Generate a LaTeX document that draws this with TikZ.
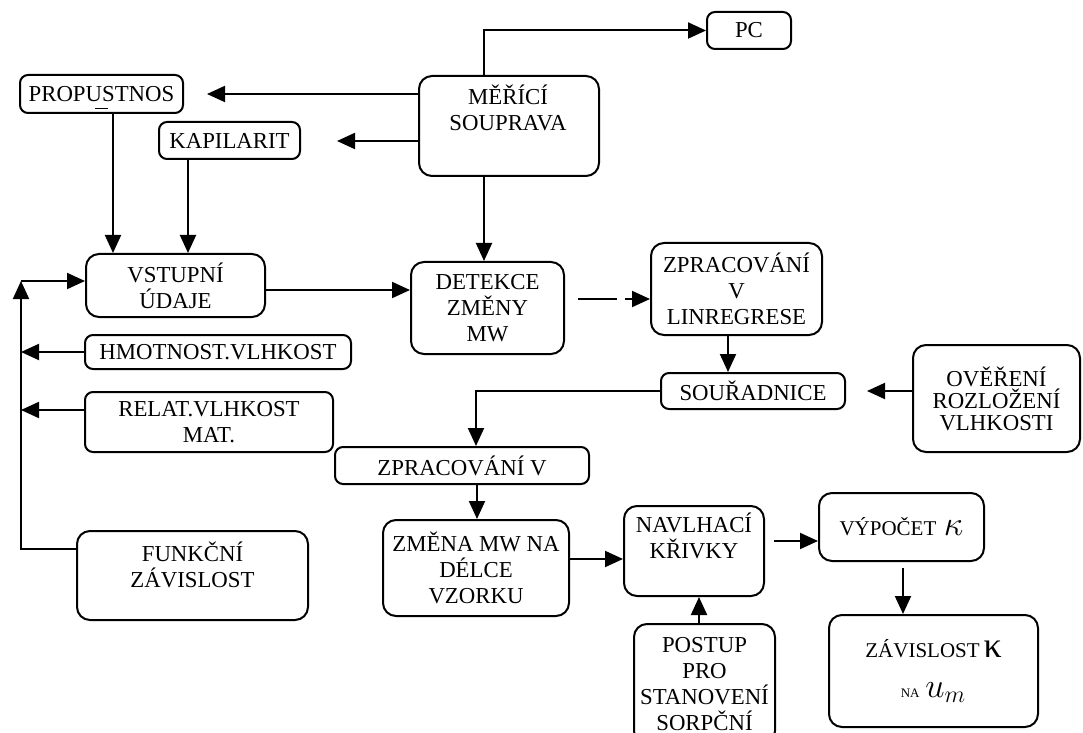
\documentclass[tikz,border=0pt]{standalone}
\usepackage{fontspec}
\setmainfont{Liberation Serif}
\usetikzlibrary{arrows.meta}

\begin{document}
\begin{tikzpicture}[x=0.5pt,y=-0.5pt,line width=1pt,
  font=\fontsize{11.4}{13}\selectfont,
  box/.style={draw,rounded corners=4pt,align=center,inner sep=1pt},
  bigbox/.style={box,rounded corners=6.5pt},
  arr/.style={-{Triangle[length=9pt,width=8pt]}}]
\useasboundingbox (0,0) rectangle (1083,733);
\clip (0,0) rectangle (1083,733);
% boxes
\node[box,minimum width=42pt,minimum height=18.5pt] (pc) at (749,30.5) {PC};
\node[bigbox,minimum width=90pt,minimum height=50pt] (mer) at (509,126) {};
\node[align=center] (merT) at (508,108) {MĚŘÍCÍ\\SOUPRAVA};
\node[box,minimum width=81.5pt,minimum height=19pt] (prop) at (101.5,94) {\ooalign{PROPUSTNOS\cr\hfil\smash{\raisebox{-3.8pt}{\rule{6.5pt}{0.7pt}}}\hfil\cr}};
\node[box,minimum width=70.5pt,minimum height=18.5pt] (kap) at (229.5,140.5) {KAPILARIT};
\node[bigbox,minimum width=89.5pt,minimum height=31.5pt] (vst) at (175.5,285.5) {VSTUPNÍ\\ÚDAJE};
\node[bigbox,minimum width=76.5pt,minimum height=46pt] (det) at (487.5,308) {DETEKCE\\ZMĚNY\\MW};
\node[bigbox,minimum width=85.5pt,minimum height=46pt] (lin) at (736.5,289) {ZPRACOVÁNÍ\\V\\LINREGRESE};
\node[box,minimum width=92pt,minimum height=18pt] (sou) at (753,391) {SOUŘADNICE};
\node[bigbox,minimum width=83.5pt,minimum height=53.5pt,font=\fontsize{11.4}{11}\selectfont] (ove) at (996.5,398.5) {OVĚŘENÍ\\ROZLOŽENÍ\\VLHKOSTI};
\node[box,minimum width=133pt,minimum height=17pt] (hmo) at (218,352) {HMOTNOST.VLHKOST};
\node[box,minimum width=124pt,minimum height=30pt] (rel) at (209,422) {RELAT.VLHKOST\\MAT.};
\node[box,minimum width=127pt,minimum height=18.5pt] (zpv) at (462,465.5) {ZPRACOVÁNÍ V};
\node[bigbox,minimum width=93pt,minimum height=48pt] (zme) at (476,568) {ZMĚNA MW NA\\DÉLCE\\VZORKU};
\node[bigbox,minimum width=70pt,minimum height=45pt] (nav) at (694,551) {};
\node[align=center] (navT) at (694,536) {NAVLHACÍ\\KŘIVKY};
\node[bigbox,minimum width=70.5pt,minimum height=60pt] (pos) at (704.5,684) {POSTUP\\PRO\\STANOVENÍ\\SORPČNÍ};
\node[bigbox,minimum width=115.5pt,minimum height=44.5pt] (fun) at (192.5,575.5) {};
\node[align=center] (funT) at (192.5,565) {FUNKČNÍ\\ZÁVISLOST};
\node[bigbox,minimum width=82.5pt,minimum height=34pt] (vyp) at (901.5,527) {{\fontsize{10.5}{12}\selectfont VÝPOČET}\,\,{\LARGE$\kappa$}};
\node[bigbox,minimum width=104.5pt,minimum height=56pt] (zav) at (933.5,671) {{\fontsize{10.5}{12}\selectfont ZÁVISLOST}\,{\fontsize{18}{18}\selectfont κ}\\[7pt]{\fontsize{6.5}{7}\selectfont NA} {\LARGE$u_m$}};
% free ends
\coordinate (propR) at (207,94);
\coordinate (kapR) at (337,141);
\coordinate (souR) at (867,391);
\coordinate (busT) at (21,281);
% connectors
\draw[arr] ([xshift=-12.5pt]mer.north) |- (pc.west);
\draw[arr] ([yshift=16pt]mer.west) -- (propR);
\draw[arr] ([yshift=-7.5pt]mer.west) -- (kapR);
\draw[arr] ([xshift=5.75pt]prop.south) -- ([xshift=5.75pt]prop.south |- vst.north);
\draw[arr] ([xshift=-20.75pt]kap.south) -- ([xshift=-20.75pt]kap.south |- vst.north);
\draw[arr] ([xshift=-12.5pt]mer.south) -- ([xshift=-12.5pt]mer.south |- det.north);
\draw[arr] ([yshift=-2.25pt]vst.east) -- ([yshift=-2.25pt]vst.east -| det.west);
\draw[arr,dash pattern=on 19.5pt off 4pt] ([xshift=6.5pt,yshift=4.5pt]det.east) -- ([yshift=4.5pt]det.east -| lin.west);
\draw[arr] ([xshift=-4.25pt]lin.south) -- ([xshift=-4.25pt]lin.south |- sou.north);
\draw[arr] ([yshift=3.75pt]ove.west) -- (souR);
\draw[arr] (sou.west) -| ([xshift=7pt]zpv.north);
\draw[arr] ([xshift=7.5pt]zpv.south) -- ([xshift=7.5pt]zpv.south |- zme.north);
\draw[arr] ([yshift=4.5pt]zme.east) -- ([yshift=4.5pt]zme.east -| nav.west);
\draw[arr] ([xshift=-2.75pt]pos.north) -- ([xshift=-2.75pt]pos.north |- nav.south);
\draw[arr] ([xshift=4.5pt,yshift=5pt]nav.east) -- ([yshift=5pt]nav.east -| vyp.west);
\draw[arr] ([xshift=0.75pt,yshift=-3pt]vyp.south) -- ([xshift=0.75pt]vyp.south |- zav.north);
\draw[arr] ([yshift=13.25pt]fun.west) -| (busT);
\draw[arr] (busT) -- (busT -| vst.west);
\draw[arr] (hmo.west) -- (hmo.west -| busT);
\draw[arr] ([yshift=6pt]rel.west) -- ([yshift=6pt]rel.west -| busT);
\end{tikzpicture}
\end{document}
